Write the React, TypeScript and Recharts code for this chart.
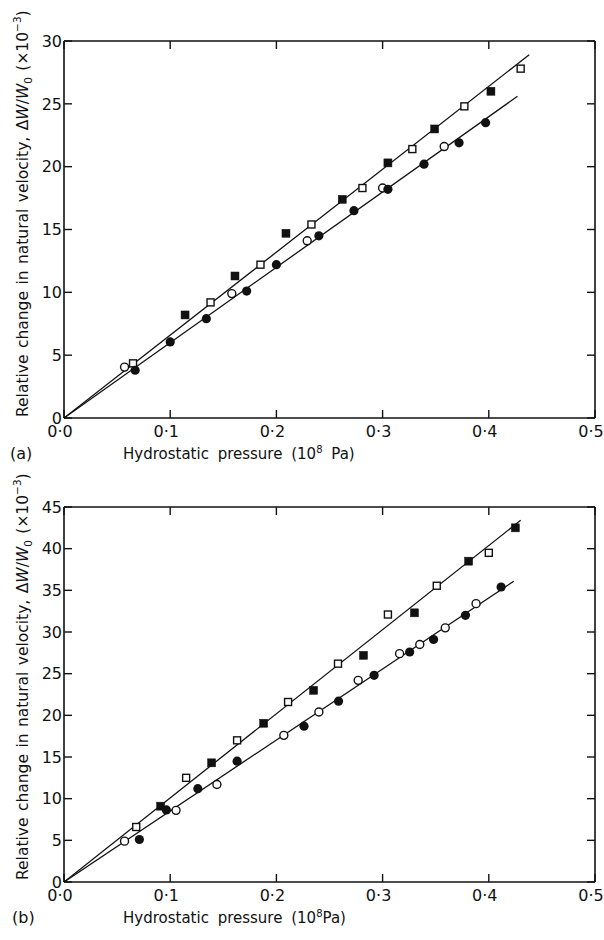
import React from 'react';
import { ComposedChart, Scatter, XAxis, YAxis } from 'recharts';

// ---------- data ----------
const xTicks = [0, 0.1, 0.2, 0.3, 0.4, 0.5];
const yTicksA = [0, 5, 10, 15, 20, 25, 30];
const yTicksB = [0, 5, 10, 15, 20, 25, 30, 35, 40, 45];

// panel (a)
const openSquaresA = [
  { p: 0.065, v: 4.35 }, { p: 0.138, v: 9.2 }, { p: 0.185, v: 12.2 }, { p: 0.233, v: 15.4 },
  { p: 0.281, v: 18.3 }, { p: 0.328, v: 21.4 }, { p: 0.377, v: 24.8 }, { p: 0.43, v: 27.8 },
];
const filledSquaresA = [
  { p: 0.114, v: 8.2 }, { p: 0.161, v: 11.3 }, { p: 0.209, v: 14.7 }, { p: 0.262, v: 17.4 },
  { p: 0.305, v: 20.3 }, { p: 0.349, v: 23.0 }, { p: 0.402, v: 26.0 },
];
const openCirclesA = [
  { p: 0.057, v: 4.05 }, { p: 0.158, v: 9.9 }, { p: 0.229, v: 14.1 }, { p: 0.3, v: 18.3 }, { p: 0.358, v: 21.6 },
];
const filledCirclesA = [
  { p: 0.067, v: 3.8 }, { p: 0.1, v: 6.05 }, { p: 0.134, v: 7.9 }, { p: 0.172, v: 10.1 },
  { p: 0.2, v: 12.2 }, { p: 0.24, v: 14.5 }, { p: 0.273, v: 16.5 }, { p: 0.305, v: 18.2 },
  { p: 0.339, v: 20.2 }, { p: 0.372, v: 21.9 }, { p: 0.397, v: 23.5 },
];
const fitUpperA = [{ p: 0, v: 0 }, { p: 0.438, v: 28.9 }];
const fitLowerA = [{ p: 0, v: 0 }, { p: 0.427, v: 25.6 }];

// panel (b)
const openSquaresB = [
  { p: 0.068, v: 6.6 }, { p: 0.115, v: 12.5 }, { p: 0.163, v: 17.0 }, { p: 0.211, v: 21.6 },
  { p: 0.258, v: 26.2 }, { p: 0.305, v: 32.1 }, { p: 0.351, v: 35.55 }, { p: 0.4, v: 39.5 },
];
const filledSquaresB = [
  { p: 0.091, v: 9.1 }, { p: 0.139, v: 14.3 }, { p: 0.188, v: 19.05 }, { p: 0.235, v: 23.0 },
  { p: 0.282, v: 27.2 }, { p: 0.33, v: 32.3 }, { p: 0.381, v: 38.5 }, { p: 0.425, v: 42.5 },
];
const openCirclesB = [
  { p: 0.057, v: 4.9 }, { p: 0.1055, v: 8.6 }, { p: 0.144, v: 11.7 }, { p: 0.207, v: 17.6 },
  { p: 0.24, v: 20.4 }, { p: 0.277, v: 24.2 }, { p: 0.316, v: 27.4 }, { p: 0.335, v: 28.5 },
  { p: 0.359, v: 30.5 }, { p: 0.388, v: 33.4 },
];
const filledCirclesB = [
  { p: 0.071, v: 5.1 }, { p: 0.0964, v: 8.65 }, { p: 0.126, v: 11.2 }, { p: 0.163, v: 14.5 },
  { p: 0.226, v: 18.7 }, { p: 0.2585, v: 21.7 }, { p: 0.292, v: 24.8 }, { p: 0.3255, v: 27.6 },
  { p: 0.348, v: 29.1 }, { p: 0.378, v: 32.0 }, { p: 0.4116, v: 35.4 },
];
const fitUpperB = [{ p: 0, v: 0 }, { p: 0.43, v: 43.4 }];
const fitLowerB = [{ p: 0, v: 0 }, { p: 0.4235, v: 36.1 }];

// ---------- styles ----------
const FONT = '"DejaVu Sans", "Open Sans", sans-serif';
const INK = '#111';
const TICK = 8;
const fmtX = (v: number) => v.toFixed(1).replace('.', '·');

const BottomTick = (props: any) => {
  const { x, y, payload } = props;
  return (
    <g>
      <line x1={x} y1={y} x2={x} y2={y - TICK} stroke={INK} strokeWidth={1.4} />
      <text x={x - 4} y={y + 19} textAnchor="middle" fontSize={16} fontFamily={FONT} fill={INK}>
        {fmtX(payload.value)}
      </text>
    </g>
  );
};
const TopTick = (props: any) => {
  const { x, y } = props;
  return <line x1={x} y1={y} x2={x} y2={y + TICK} stroke={INK} strokeWidth={1.4} />;
};
const LeftTick = (props: any) => {
  const { x, y, payload } = props;
  return (
    <g>
      <line x1={x} y1={y} x2={x + TICK} y2={y} stroke={INK} strokeWidth={1.4} />
      <text x={x - 2} y={y} dy="0.36em" textAnchor="end" fontSize={16} fontFamily={FONT} fill={INK}>
        {payload.value}
      </text>
    </g>
  );
};
const RightTick = (props: any) => {
  const { x, y } = props;
  return <line x1={x} y1={y} x2={x - TICK} y2={y} stroke={INK} strokeWidth={1.4} />;
};

const OpenSquare = (p: any) => (
  <rect x={p.cx - 3.5} y={p.cy - 3.5} width={7} height={7} fill="#fff" stroke={INK} strokeWidth={1.4} />
);
const FilledSquare = (p: any) => (
  <rect x={p.cx - 4} y={p.cy - 4} width={8} height={8} fill={INK} stroke={INK} strokeWidth={0.5} />
);
const OpenCircle = (p: any) => (
  <circle cx={p.cx} cy={p.cy} r={4} fill="#fff" stroke={INK} strokeWidth={1.4} />
);
const FilledCircle = (p: any) => <circle cx={p.cx} cy={p.cy} r={4.6} fill={INK} />;
const NoDot = () => <g />;

const axisLine = { stroke: INK, strokeWidth: 1.6 };

type PanelProps = {
  yTicks: number[];
  yMax: number;
  topH: number;
  bottomH: number;
  openSquares: any[];
  filledSquares: any[];
  openCircles: any[];
  filledCircles: any[];
  fitUpper: any[];
  fitLower: any[];
};

const Panel = (pp: PanelProps) => (
  <ComposedChart width={604} height={470} margin={{ top: 0, right: 0, bottom: 0, left: 0 }}>
    <XAxis xAxisId="b" type="number" dataKey="p" domain={[0, 0.5]} ticks={xTicks} orientation="bottom"
      height={pp.bottomH} tickSize={0} tickMargin={0} tickLine={false} axisLine={axisLine}
      tick={<BottomTick />} interval={0} allowDataOverflow />
    <XAxis xAxisId="t" type="number" dataKey="p" domain={[0, 0.5]} ticks={xTicks} orientation="top"
      height={pp.topH} tickSize={0} tickMargin={0} tickLine={false} axisLine={axisLine}
      tick={<TopTick />} interval={0} allowDataOverflow />
    <YAxis yAxisId="l" type="number" dataKey="v" domain={[0, pp.yMax]} ticks={pp.yTicks} orientation="left"
      width={64} tickSize={0} tickMargin={0} tickLine={false} axisLine={axisLine}
      tick={<LeftTick />} interval={0} allowDataOverflow />
    <YAxis yAxisId="r" type="number" dataKey="v" domain={[0, pp.yMax]} ticks={pp.yTicks} orientation="right"
      width={9} tickSize={0} tickMargin={0} tickLine={false} axisLine={axisLine}
      tick={<RightTick />} interval={0} allowDataOverflow />
    <Scatter xAxisId="b" yAxisId="l" data={pp.fitUpper} shape={<NoDot />} line={{ stroke: INK, strokeWidth: 1.3 }} isAnimationActive={false} />
    <Scatter xAxisId="b" yAxisId="l" data={pp.fitLower} shape={<NoDot />} line={{ stroke: INK, strokeWidth: 1.3 }} isAnimationActive={false} />
    <Scatter xAxisId="b" yAxisId="l" data={pp.openSquares} shape={<OpenSquare />} isAnimationActive={false} />
    <Scatter xAxisId="b" yAxisId="l" data={pp.filledSquares} shape={<FilledSquare />} isAnimationActive={false} />
    <Scatter xAxisId="b" yAxisId="l" data={pp.openCircles} shape={<OpenCircle />} isAnimationActive={false} />
    <Scatter xAxisId="b" yAxisId="l" data={pp.filledCircles} shape={<FilledCircle />} isAnimationActive={false} />
  </ComposedChart>
);

const YTitle = ({ x, y }: { x: number; y: number }) => (
  <text x={x} y={y} transform={`rotate(-90, ${x}, ${y})`} fontSize={15.5} fontFamily={FONT} fill={INK}
    textAnchor="start" wordSpacing={1.5}>
    Relative change in natural velocity, Δ
    <tspan fontStyle="italic">W</tspan>/<tspan fontStyle="italic">W</tspan>
    <tspan dy={4} fontSize={10.5}>0</tspan>
    <tspan dy={-4}> (×10</tspan>
    <tspan dy={-7} fontSize={10.5}>−3</tspan>
    <tspan dy={7}>)</tspan>
  </text>
);

export default function App() {
  return (
    <div style={{ position: 'absolute', left: 0, top: 0, width: 604, height: 940, background: '#fff' }}>
      <style>{'.recharts-surface{overflow:visible}'}</style>
      <div style={{ position: 'absolute', left: 0, top: 0 }}>
        <Panel yTicks={yTicksA} yMax={30} topH={41} bottomH={52}
          openSquares={openSquaresA} filledSquares={filledSquaresA}
          openCircles={openCirclesA} filledCircles={filledCirclesA}
          fitUpper={fitUpperA} fitLower={fitLowerA} />
      </div>
      <div style={{ position: 'absolute', left: 0, top: 470 }}>
        <Panel yTicks={yTicksB} yMax={45} topH={37} bottomH={58}
          openSquares={openSquaresB} filledSquares={filledSquaresB}
          openCircles={openCirclesB} filledCircles={filledCirclesB}
          fitUpper={fitUpperB} fitLower={fitLowerB} />
      </div>
      <svg width={604} height={940} style={{ position: 'absolute', left: 0, top: 0, pointerEvents: 'none', overflow: 'visible' }}>
        <YTitle x={28} y={417} />
        <YTitle x={28} y={880} />
        <text x={10} y={459} fontSize={16} fontFamily={FONT} fill={INK}>(a)</text>
        <text x={123} y={459} fontSize={15} fontFamily={FONT} fill={INK} wordSpacing={4}>
          Hydrostatic pressure (10<tspan dy={-6} fontSize={10}>8</tspan><tspan dy={6}> Pa)</tspan>
        </text>
        <text x={12} y={923} fontSize={16} fontFamily={FONT} fill={INK}>(b)</text>
        <text x={123} y={923} fontSize={15} fontFamily={FONT} fill={INK} wordSpacing={4}>
          Hydrostatic pressure (10<tspan dy={-6} fontSize={10}>8</tspan><tspan dy={6}>Pa)</tspan>
        </text>
      </svg>
    </div>
  );
}
